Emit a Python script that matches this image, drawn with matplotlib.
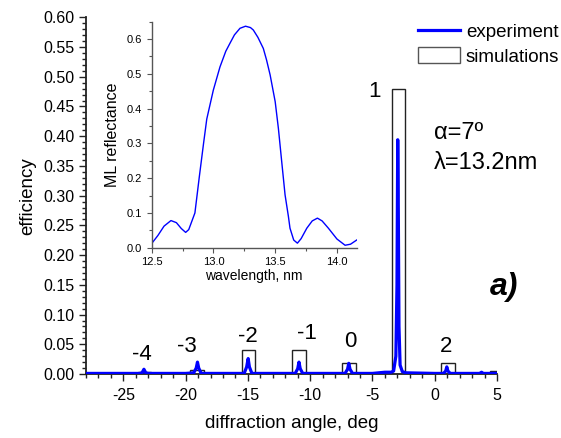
import numpy as np
import matplotlib
matplotlib.use("Agg")
import matplotlib.pyplot as plt
from matplotlib.lines import Line2D
from matplotlib.patches import Patch
from matplotlib.ticker import MultipleLocator

plt.rcParams['font.family'] = ['Liberation Sans', 'DejaVu Sans']
plt.rcParams['axes.unicode_minus'] = False

# ----------------- data -------------------------------

# simulated diffraction efficiencies (bars)
sim_angle = [-23.3, -19.1, -14.95, -10.9, -6.9, -2.92, 1.05, 4.95]
sim_eff = [0.003, 0.007, 0.041, 0.041, 0.018, 0.479, 0.018, 0.005]

# order labels
order_text = ["-4", "-3", "-2", "-1", "0", "1", "2"]
order_x = [-23.5, -19.9, -15.0, -10.3, -6.8, -4.85, 0.9]
order_y = [0.033, 0.046, 0.063, 0.068, 0.054, 0.475, 0.046]

# measured scan (experiment)
exp_angle = [-28.0, -25.0, -23.7, -23.5, -23.35, -23.2, -23.0,
             -20.0, -19.35, -19.15, -19.05, -18.95, -18.75,
             -15.3, -15.1, -14.98, -14.88, -14.68,
             -11.2, -11.0, -10.9, -10.8, -10.6,
             -7.2, -7.0, -6.9, -6.8, -6.6,
             -5.0, -4.0, -3.5, -3.3, -3.12, -3.03, -2.97, -2.93, -2.87, -2.78, -2.6, -2.3,
             0.0, 0.7, 0.88, 0.97, 1.06, 1.25,
             3.0, 3.6, 3.76, 3.9, 5.0]
exp_eff = [0.001, 0.001, 0.001, 0.002, 0.008, 0.002, 0.001,
           0.001, 0.002, 0.010, 0.020, 0.010, 0.001,
           0.001, 0.012, 0.026, 0.012, 0.001,
           0.001, 0.009, 0.020, 0.009, 0.001,
           0.001, 0.008, 0.018, 0.008, 0.001,
           0.001, 0.003, 0.003, 0.005, 0.03, 0.15, 0.394, 0.30, 0.08, 0.015, 0.004, 0.002,
           0.001, 0.001, 0.005, 0.012, 0.005, 0.001,
           0.001, 0.001, 0.003, 0.001, 0.001]

# inset: multilayer reflectance
wl = [12.5, 12.55, 12.6, 12.656, 12.7, 12.74, 12.775, 12.8, 12.824, 12.85, 12.886,
      12.92, 12.946, 12.999, 13.053, 13.1, 13.134, 13.17, 13.215, 13.26, 13.3,
      13.323, 13.36, 13.404, 13.43, 13.459, 13.5, 13.526, 13.553, 13.58, 13.607,
      13.62, 13.65, 13.68, 13.71, 13.756, 13.8, 13.842, 13.88, 13.931, 14.0,
      14.066, 14.11, 14.16]
refl = [0.012, 0.035, 0.062, 0.078, 0.072, 0.055, 0.044, 0.052, 0.075, 0.10, 0.205,
        0.30, 0.37, 0.453, 0.52, 0.565, 0.588, 0.612, 0.631, 0.637, 0.633,
        0.626, 0.605, 0.573, 0.54, 0.497, 0.42, 0.343, 0.247, 0.152, 0.09,
        0.056, 0.022, 0.013, 0.026, 0.056, 0.077, 0.085, 0.077, 0.056, 0.025,
        0.007, 0.010, 0.022]

# ----------------- plot -------------------------------

fig = plt.figure(figsize=(5.61, 4.38), dpi=100)
ax = fig.add_axes([0.1533, 0.1461, 0.7326, 0.8144])

ax.bar(sim_angle, sim_eff, width=1.1, facecolor="white",
       edgecolor="#222222", linewidth=1.0, zorder=2)
ax.plot(exp_angle, exp_eff, color="#0000ff", linewidth=2.3, zorder=3)

for t, x, y in zip(order_text, order_x, order_y):
    ax.text(x, y, t, fontsize=16, ha="center", va="center")

ax.set_xlim(-28, 5)
ax.set_ylim(0, 0.60)
ax.xaxis.set_major_locator(MultipleLocator(5))
ax.xaxis.set_minor_locator(MultipleLocator(1))
ax.yaxis.set_major_locator(MultipleLocator(0.05))
ax.yaxis.set_minor_locator(MultipleLocator(0.01))
ax.yaxis.set_major_formatter(plt.FormatStrFormatter("%.2f"))
ax.spines["top"].set_visible(False)
ax.spines["right"].set_visible(False)
for s in ["left", "bottom"]:
    ax.spines[s].set_linewidth(1.3)
    ax.spines[s].set_color("#222222")
ax.tick_params(which="both", direction="out", width=1.0, colors="#222222",
               labelcolor="black", labelsize=11.5)
ax.tick_params(which="major", length=5)
ax.tick_params(which="minor", length=3)
ax.tick_params(axis="x", pad=5)
ax.set_xlabel("diffraction angle, deg", fontsize=13.5, labelpad=9)
ax.set_ylabel("efficiency", fontsize=13.5, labelpad=5)

fig.text(434 / 561, 1 - 133 / 438, "α=7º", fontsize=17,
         ha="left", va="center")
fig.text(434 / 561, 1 - 163 / 438, "λ=13.2nm", fontsize=17,
         ha="left", va="center")
fig.text(504 / 561, 1 - 287 / 438, "a)", fontsize=23, fontweight="bold",
         style="italic", ha="center", va="center")

handles = [Line2D([], [], color="#0000ff", linewidth=2.3),
           Patch(facecolor="white", edgecolor="#555555", linewidth=1.0)]
fig.legend(handles, ["experiment", "simulations"], loc="upper left",
           bbox_to_anchor=(418 / 561, 1 - 23 / 438), frameon=False,
           fontsize=13.5, handlelength=2.24, handleheight=0.9,
           handletextpad=0.32, labelspacing=0.33, borderpad=0,
           borderaxespad=0)

# inset
axin = fig.add_axes([0.2704, 0.4345, 0.3654, 0.516])
axin.plot(wl, refl, color="#0000ff", linewidth=1.0)
axin.set_xlim(12.5, 14.16)
axin.set_ylim(0, 0.65)
axin.xaxis.set_major_locator(MultipleLocator(0.5))
axin.xaxis.set_minor_locator(MultipleLocator(0.25))
axin.yaxis.set_major_locator(MultipleLocator(0.1))
axin.yaxis.set_minor_locator(MultipleLocator(0.05))
axin.xaxis.set_major_formatter(plt.FormatStrFormatter("%.1f"))
axin.yaxis.set_major_formatter(plt.FormatStrFormatter("%.1f"))
axin.spines["top"].set_visible(False)
axin.spines["right"].set_visible(False)
for s in ["left", "bottom"]:
    axin.spines[s].set_linewidth(1.0)
    axin.spines[s].set_color("#555555")
axin.tick_params(which="both", direction="out", width=0.8, colors="#555555",
                 labelcolor="black", labelsize=8)
axin.tick_params(which="major", length=3.5)
axin.tick_params(which="minor", length=2)
axin.patch.set_alpha(0)
axin.set_xlabel("wavelength, nm", fontsize=10, labelpad=1)
axin.set_ylabel("ML reflectance", fontsize=11.5, labelpad=5)

fig.savefig("out.png", dpi=100)
